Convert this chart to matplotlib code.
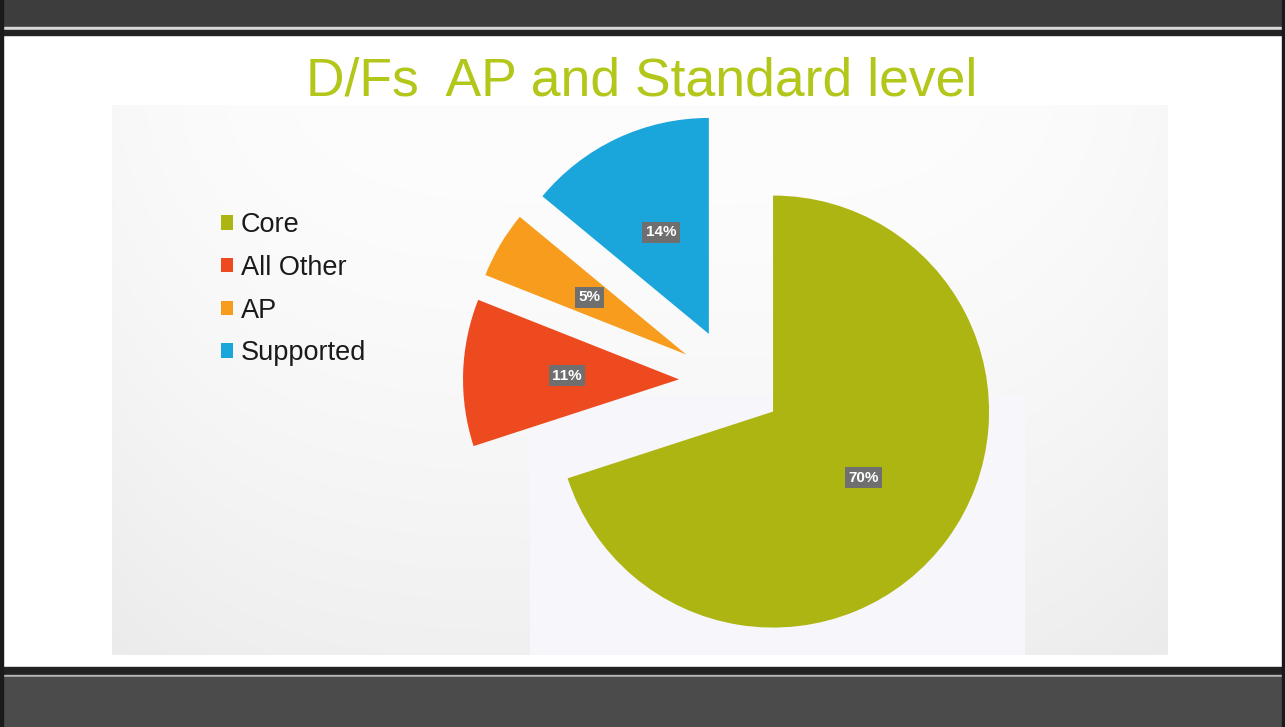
import numpy as np
import matplotlib
matplotlib.use("Agg")
import matplotlib.pyplot as plt
from matplotlib.patches import Rectangle

plt.rcParams['font.family'] = ['Liberation Sans', 'DejaVu Sans']

# datos del grafico
categories = ['Core', 'All Other', 'AP', 'Supported']
shares = [70, 11, 5, 14]
colors = ['#adb512', '#ee4a1f', '#f89c1e', '#1ba6db']
title = 'D/Fs  AP and Standard level'

W, H = 1285, 727
fig = plt.figure(figsize=(W / 100, H / 100), dpi=100)
ax = fig.add_axes([0, 0, 1, 1])


def iy(y):
    # coordenada de imagen (y hacia abajo) -> datos
    return H - y


# fondo de la diapositiva
ax.add_patch(Rectangle((0, 0), W, H, color='white', zorder=0))

# area del grafico con un degradado suave (foto de pantalla)
gx, gy = np.meshgrid(np.linspace(-1, 1, 300), np.linspace(0, 1, 200))
g = 0.992 - 0.05 * gy ** 1.5 - 0.02 * (gx ** 2) ** 2
g = np.clip(g, 0, 1)
img = np.dstack([g, g, g])
ax.imshow(img, extent=(112, 1168, iy(655), iy(105)), zorder=0.5, interpolation='bilinear')
# zona mas clara detras del pastel
ax.add_patch(Rectangle((530, iy(655)), 495, 260, color='#f7f6fa', zorder=0.6, lw=0))

# bandas oscuras arriba y abajo
ax.add_patch(Rectangle((0, iy(27)), W, 27, color='#3d3d3d', zorder=2))
ax.add_patch(Rectangle((0, iy(29)), W, 2, color='#d8d8d8', zorder=2))
ax.add_patch(Rectangle((0, iy(35)), W, 5, color='#222222', zorder=2))
ax.add_patch(Rectangle((0, iy(675)), W, 8, color='#222222', zorder=2))
ax.add_patch(Rectangle((0, iy(677)), W, 2, color='#b5b5b5', zorder=2))
ax.add_patch(Rectangle((0, 0), W, H - 677, color='#4b4b4b', zorder=2))
ax.add_patch(Rectangle((0, 0), 3, H, color='#1a1a1a', zorder=2))
ax.add_patch(Rectangle((W - 3, 0), 3, H, color='#1a1a1a', zorder=2))

# titulo
ax.text(642, iy(95), title, ha='center', va='baseline', fontsize=38.5,
        color='#b3c61a', zorder=3)

# pastel
wedges, texts, autotexts = ax.pie(
    shares, colors=colors, startangle=90, counterclock=False,
    explode=[52] * len(shares), radius=216, center=(731, iy(381)),
    autopct='%1.0f%%', pctdistance=0.52,
    wedgeprops=dict(linewidth=0, zorder=1),
    textprops=dict(color='white', fontsize=11, fontweight='bold'))
for t in autotexts:
    t.set_bbox(dict(boxstyle='square,pad=0.22', fc='#6f6f6f', ec='none'))
    t.set_zorder(3)

# leyenda
leg = ax.legend(wedges, categories, loc='upper left', frameon=False,
                bbox_to_anchor=(221 / W, 1 - 212 / H), fontsize=19.5,
                handlelength=0.45, handleheight=0.45, handletextpad=0.28,
                labelspacing=0.62, borderpad=0, borderaxespad=0)
for t in leg.get_texts():
    t.set_color('#1a1a1a')

ax.set_xlim(0, W)
ax.set_ylim(0, H)
ax.set_aspect('auto')
ax.axis('off')

fig.savefig('out.png', dpi=100)
